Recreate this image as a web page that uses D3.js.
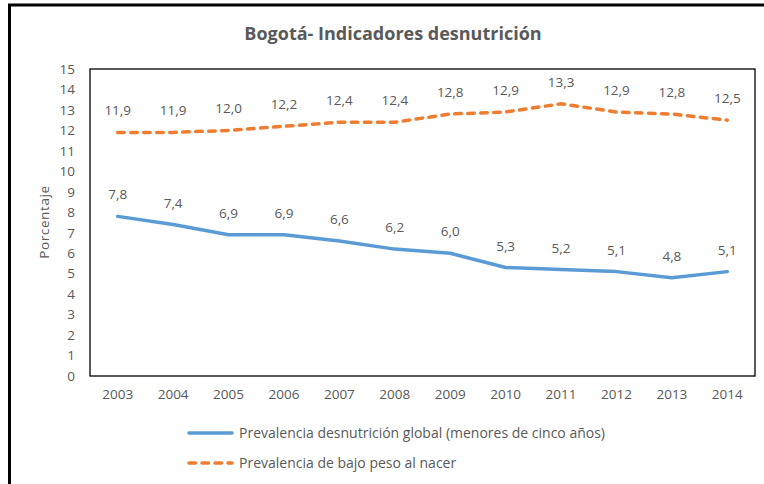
<!DOCTYPE html>
<html><head><meta charset="utf-8">
<script src="https://cdn.jsdelivr.net/npm/d3@7/dist/d3.min.js"></script>
<style>
body{margin:0;background:#fff;}
svg{display:block;}
text{font-family:"Open Sans","Noto Sans",sans-serif;fill:#595959;}
</style></head>
<body>
<svg id="c" width="764" height="484"></svg>
<script>
const years = [2003,2004,2005,2006,2007,2008,2009,2010,2011,2012,2013,2014];
const desnutricionGlobal = [7.8,7.4,6.9,6.9,6.6,6.2,6.0,5.3,5.2,5.1,4.8,5.1];
const bajoPesoNacer = [11.9,11.9,12.0,12.2,12.4,12.4,12.8,12.9,13.3,12.9,12.8,12.5];
const yTicks = [0,1,2,3,4,5,6,7,8,9,10,11,12,13,14,15];
const seriesNames = ["Prevalencia desnutrición global (menores de cinco años)","Prevalencia de bajo peso al nacer"];
const titleText = "Bogotá- Indicadores desnutrición";
const yTitle = "Porcentaje";

const svg = d3.select("#c");
svg.append("rect").attr("x",9.5).attr("y",5).attr("width",800).attr("height",520)
  .attr("fill","none").attr("stroke","#000").attr("stroke-width",3);

const m = {left:90, top:69, right:755, bottom:376};
const x = d3.scaleBand().domain(years).range([m.left,m.right]);
const y = d3.scaleLinear().domain([0,15]).range([m.bottom,m.top]);

svg.append("text").attr("x",393).attr("y",40).attr("text-anchor","middle")
  .style("font-size","18px").style("font-weight","bold").text(titleText);

svg.append("rect").attr("x",m.left).attr("y",m.top).attr("width",m.right-m.left).attr("height",m.bottom-m.top)
  .attr("fill","none").attr("stroke","#000").attr("stroke-width",1.3);

const yAxis = svg.append("g").attr("transform",`translate(${m.left},0)`)
  .call(d3.axisLeft(y).tickValues(yTicks).tickSize(0).tickPadding(15).tickFormat(d3.format("d")));
yAxis.select(".domain").remove();
yAxis.selectAll("text").style("font-size","13.5px").style("font-family","'Open Sans',sans-serif").attr("fill","#595959");

const xAxis = svg.append("g").attr("transform",`translate(0,${m.bottom})`)
  .call(d3.axisBottom(x).tickSize(0).tickPadding(13));
xAxis.select(".domain").remove();
xAxis.selectAll("text").style("font-size","13.5px").style("font-family","'Open Sans',sans-serif").attr("fill","#595959");

svg.append("text").attr("transform","translate(49,222) rotate(-90)").attr("text-anchor","middle")
  .style("font-size","13.5px").style("letter-spacing","0.6px").text(yTitle);

const cx = d => x(d)+x.bandwidth()/2;
const line = d3.line().x((d,i)=>cx(years[i])).y(d=>y(d));

svg.append("path").datum(desnutricionGlobal).attr("d",line).attr("fill","none")
  .attr("stroke","#5B9BD5").attr("stroke-width",3.5).attr("stroke-linejoin","round").attr("stroke-linecap","round");
svg.append("path").datum(bajoPesoNacer).attr("d",line).attr("fill","none")
  .attr("stroke","#ED7D31").attr("stroke-width",3.5).attr("stroke-dasharray","6.5,6.5").attr("stroke-linecap","round");

const fmt = d => d3.format(".1f")(d).replace(".",",");
[desnutricionGlobal,bajoPesoNacer].forEach(s=>{
  svg.append("g").selectAll("text").data(s).join("text")
    .attr("x",(d,i)=>cx(years[i])).attr("y",d=>y(d)-17)
    .attr("text-anchor","middle").style("font-size","13.5px").text(fmt);
});

const lg = svg.append("g");
const legendRows = [{name:seriesNames[0],color:"#5B9BD5",dash:null,y:433},{name:seriesNames[1],color:"#ED7D31",dash:"6.5,6.5",y:463}];
legendRows.forEach(r=>{
  lg.append("line").attr("x1",189).attr("x2",232).attr("y1",r.y).attr("y2",r.y)
    .attr("stroke",r.color).attr("stroke-width",3.5).attr("stroke-linecap","round")
    .attr("stroke-dasharray",r.dash);
  lg.append("text").attr("x",239).attr("y",r.y+5).style("font-size","14px").text(r.name);
});
</script>
</body></html>
